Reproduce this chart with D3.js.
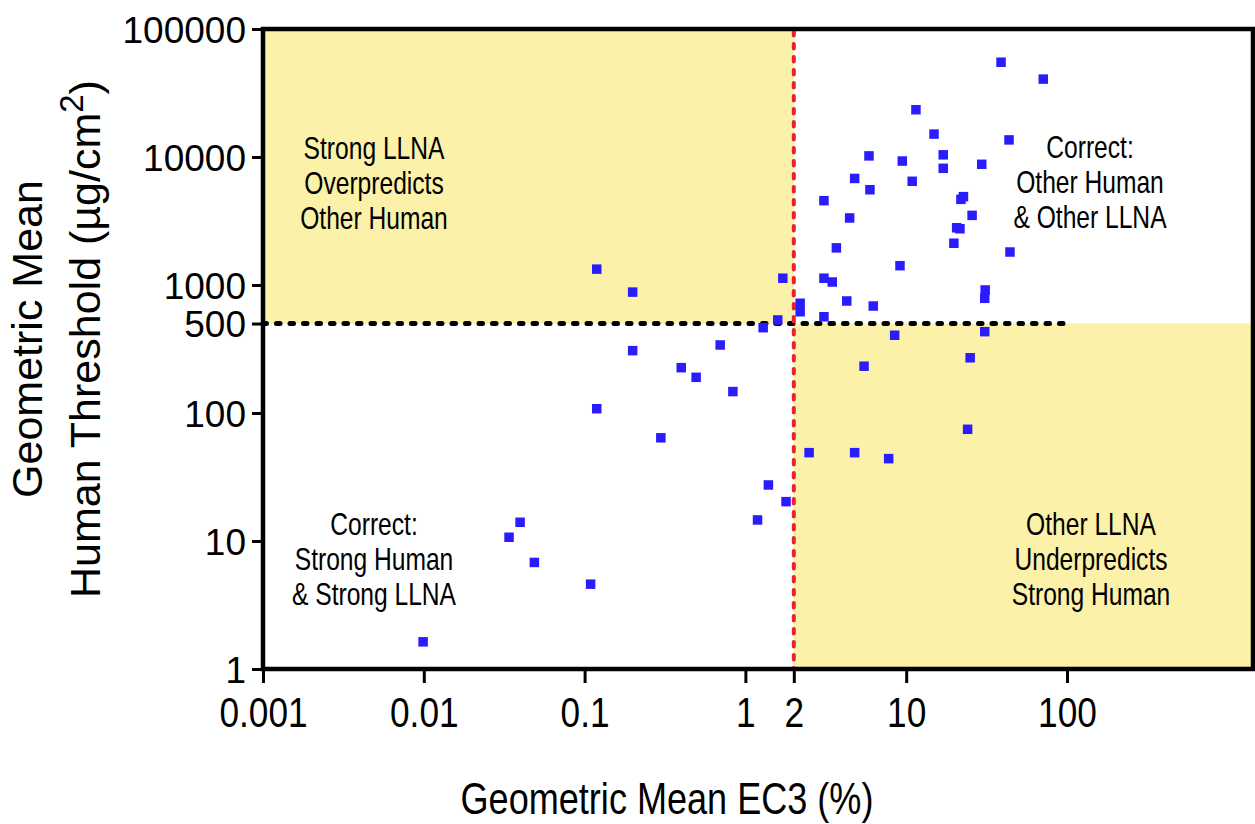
<!DOCTYPE html>
<html>
  <head>
    <meta charset="utf-8">
    <title>EC3 vs Human Threshold</title>
    <script src="https://d3js.org/d3.v7.min.js"></script>
    <style>
      body { margin: 0; background: #fff; }
      .y-axis text { font-family: 'Liberation Sans', Arial, sans-serif; font-size: 37px; fill: #000; }
      .x-axis text { font-family: 'Liberation Sans', Arial, sans-serif; font-size: 43px; fill: #000; }
      .narrow { font-family: 'Liberation Sans', Arial, sans-serif; fill: #000; }
      .wide { font-family: 'Liberation Sans', Arial, sans-serif; fill: #000; }
    </style>
  </head>
  <body>
    <script>
    // geometric mean EC3 (%) and human threshold (ug/cm2), one entry per chemical
    var ec3 = [38.9, 71.2, 11.5, 14.9, 43.6, 5.87, 9.46, 17.0, 17.0, 29.5,
               4.78, 10.9, 5.95, 3.08, 22.7, 21.9, 25.7, 4.45, 20.6, 21.6,
               19.8, 44.2, 3.68, 9.15, 1.71, 3.08, 3.47, 31.0, 30.8, 4.27,
               6.24, 2.19, 2.19, 3.08, 1.59, 1.29, 8.48, 30.8, 25.0, 5.47,
               24.1, 2.49, 4.78, 7.78, 1.79,
               0.199, 0.697, 0.399, 0.494, 0.836, 0.119, 0.298, 1.39, 1.19, 0.0397,
               0.0339, 0.0487, 0.109, 0.0099, 0.119, 0.199];
    var threshold = [55000, 40600, 23400, 15100, 13600, 10200, 9300, 10400, 8160, 8770,
                     6800, 6460, 5550, 4560, 4900, 4670, 3500, 3340, 2800, 2750,
                     2120, 1810, 1950, 1415, 1130, 1130, 1055, 914, 787, 750,
                     685, 720, 618, 565, 533, 464, 405, 432, 270, 232,
                     74.6, 49, 49, 44, 20.3,
                     307, 340, 226, 190, 147, 108, 64, 27.4, 14.6, 14.0,
                     10.7, 6.8, 4.6, 1.63, 1330, 880];

    var xTickValues = [0.001, 0.01, 0.1, 1, 2, 10, 100];
    var yTickValues = [1, 10, 100, 500, 1000, 10000, 100000];
    var ec3Cutoff = 2;
    var thresholdCutoff = 500;

    var quadrantText = [
      ['Strong LLNA', 'Overpredicts', 'Other Human'],
      ['Correct:', 'Other Human', '& Other LLNA'],
      ['Correct:', 'Strong Human', '& Strong LLNA'],
      ['Other LLNA', 'Underpredicts', 'Strong Human']
    ];

    var margin = {top: 29, right: 2, bottom: 155, left: 263},
        width = 1255 - margin.left - margin.right,
        height = 824 - margin.top - margin.bottom;

    // narrow look: the fonts here have no condensed face, so squeeze horizontally
    var squeeze = 0.82;

    var xScale = d3.scaleLog().domain([0.001, 1435]).range([0, width]);
    var yScale = d3.scaleLog().domain([1, 100000]).range([height, 0]);

    var root = d3.select('body').append('svg')
        .attr('width', 1255)
        .attr('height', 824);

    var svg = root.append('g')
        .attr('transform', 'translate(' + margin.left + ',' + margin.top + ')');

    // shaded misprediction quadrants
    svg.append('rect')
        .attr('x', 0)
        .attr('y', 0)
        .attr('width', xScale(ec3Cutoff))
        .attr('height', yScale(thresholdCutoff))
        .attr('fill', '#fbf1a8');
    svg.append('rect')
        .attr('x', xScale(ec3Cutoff))
        .attr('y', yScale(thresholdCutoff))
        .attr('width', width - xScale(ec3Cutoff))
        .attr('height', height - yScale(thresholdCutoff))
        .attr('fill', '#fbf1a8');

    // quadrant labels
    var labelPos = [
      {x: 111, y: 130}, {x: 827, y: 129},
      {x: 111, y: 506}, {x: 828, y: 506}
    ];
    quadrantText.forEach(function(lines, i) {
      var t = svg.append('text')
          .attr('class', 'narrow')
          .attr('text-anchor', 'middle')
          .attr('transform', 'translate(' + labelPos[i].x + ',' + labelPos[i].y + ') scale(' + squeeze + ',1.04)')
          .style('font-size', '30px');
      lines.forEach(function(line, j) {
        t.append('tspan')
            .attr('x', 0)
            .attr('y', j * 33.7)
            .text(line);
      });
    });

    // cutoff lines
    svg.append('line')
        .attr('x1', 0)
        .attr('x2', xScale(100))
        .attr('y1', yScale(thresholdCutoff))
        .attr('y2', yScale(thresholdCutoff))
        .attr('stroke', '#000')
        .attr('stroke-width', 5)
        .attr('stroke-linecap', 'round')
        .attr('stroke-dasharray', '3.5 10');

    svg.append('line')
        .attr('x1', xScale(ec3Cutoff))
        .attr('x2', xScale(ec3Cutoff))
        .attr('y1', 2)
        .attr('y2', height)
        .attr('stroke', '#e8232a')
        .attr('stroke-width', 4)
        .attr('stroke-linecap', 'round')
        .attr('stroke-dasharray', '4.5 8.5');

    // points
    var size = 9.5;
    svg.append('g')
        .selectAll('rect')
        .data(ec3)
        .enter()
        .append('rect')
        .attr('x', function(d) { return xScale(d) - size / 2; })
        .attr('y', function(d, i) { return yScale(threshold[i]) - size / 2; })
        .attr('width', size)
        .attr('height', size)
        .attr('fill', '#2a1cff');

    // frame
    svg.append('rect')
        .attr('x', 0)
        .attr('y', 0)
        .attr('width', width)
        .attr('height', height)
        .attr('fill', 'none')
        .attr('stroke', '#000')
        .attr('stroke-width', 4.5);

    // x-axis
    var xAxis = svg.append('g')
        .attr('class', 'x-axis')
        .attr('transform', 'translate(0,' + height + ')')
        .call(d3.axisBottom(xScale)
            .tickValues(xTickValues)
            .tickSize(14)
            .tickFormat(function(d) { return d; })
          );
    xAxis.select('.domain').remove();
    xAxis.selectAll('line').attr('stroke-width', 3);
    xAxis.selectAll('text')
        .attr('y', 0)
        .attr('dy', 0)
        .attr('transform', 'translate(0,58) scale(' + squeeze + ',1)');

    // y-axis
    var yAxis = svg.append('g')
        .attr('class', 'y-axis')
        .call(d3.axisLeft(yScale)
            .tickValues(yTickValues)
            .tickSize(11)
            .tickPadding(6)
            .tickFormat(function(d) { return d; })
          );
    yAxis.select('.domain').remove();
    yAxis.selectAll('line').attr('stroke-width', 3);
    yAxis.selectAll('text').attr('dy', '0.36em');

    // x-axis label
    root.append('text')
        .attr('class', 'narrow')
        .attr('transform', 'translate(667,814) scale(' + squeeze + ',1)')
        .attr('text-anchor', 'middle')
        .style('font-size', '44px')
        .text('Geometric Mean EC3 (%)');

    // y-axis label
    var yLabel = root.append('text')
        .attr('class', 'wide')
        .attr('transform', 'translate(0,339) rotate(-90)')
        .attr('text-anchor', 'middle')
        .style('font-size', '43px');
    yLabel.append('tspan')
        .attr('x', 0)
        .attr('y', 42)
        .text('Geometric Mean');
    yLabel.append('tspan')
        .attr('x', 0)
        .attr('y', 100)
        .text('Human Threshold (\u00b5g/cm');
    yLabel.append('tspan')
        .attr('dy', -17)
        .style('font-size', '33px')
        .text('2');
    yLabel.append('tspan')
        .attr('dy', 17)
        .text(')');
    </script>
  </body>
</html>
